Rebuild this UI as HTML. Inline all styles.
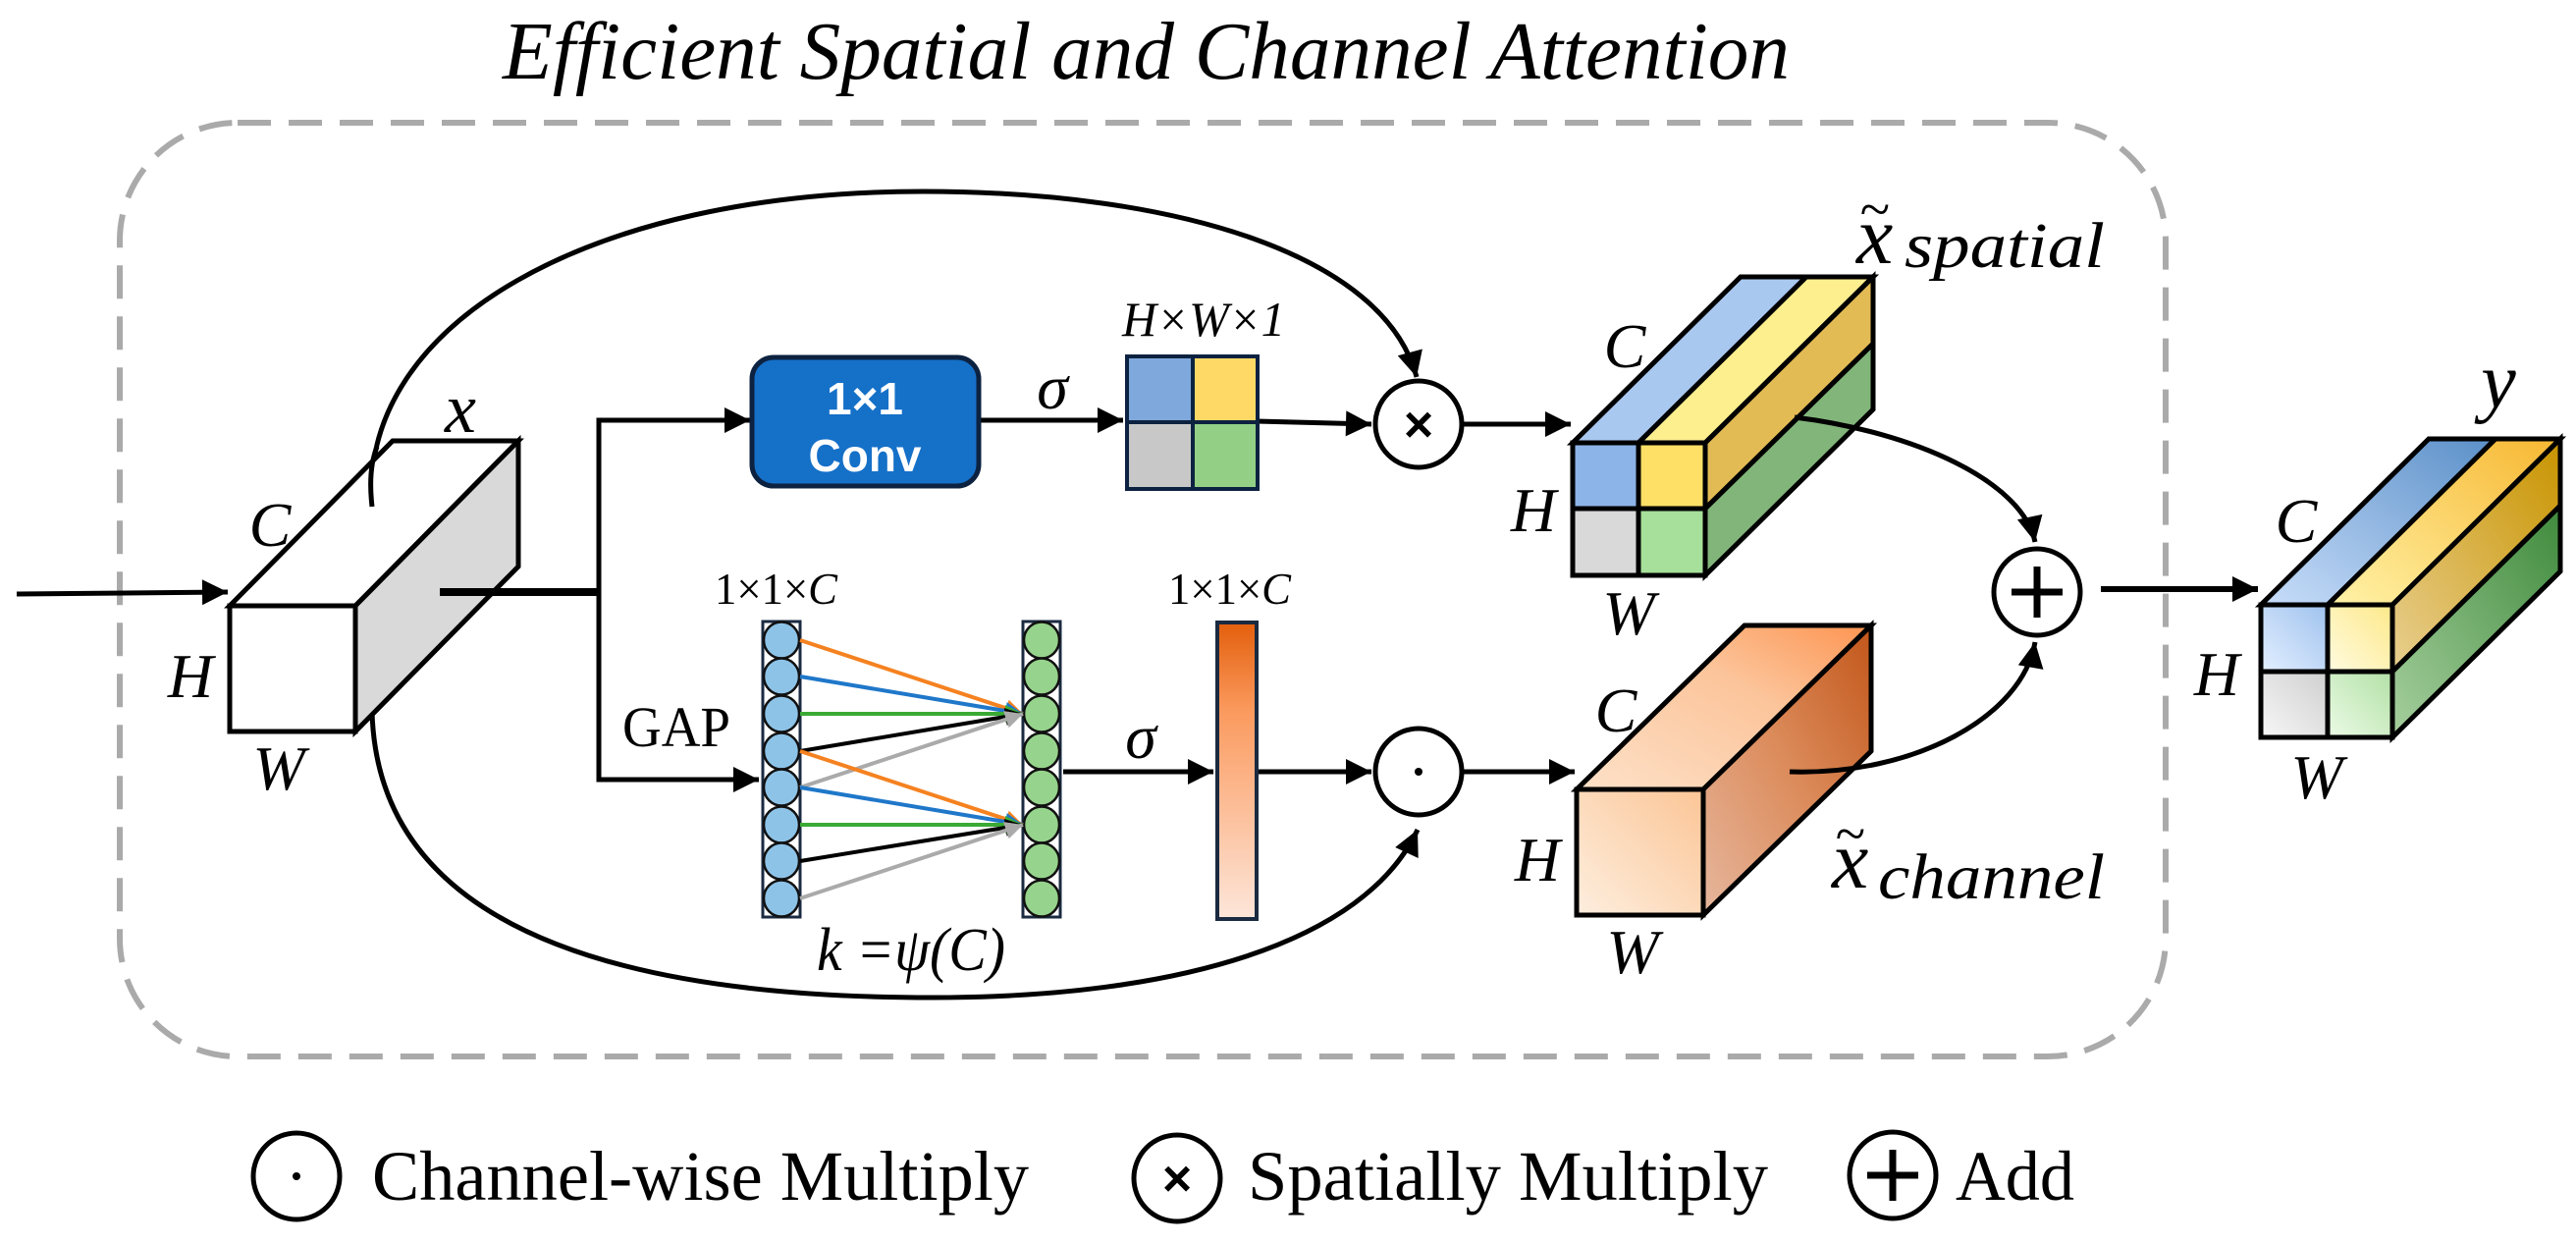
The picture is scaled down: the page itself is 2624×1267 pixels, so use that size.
<!DOCTYPE html>
<html><head><meta charset="utf-8"><style>html,body{margin:0;padding:0;background:#fff}svg{display:block}
svg text{font-family:"Liberation Serif","Times New Roman",serif}
svg text.sans{font-family:"Liberation Sans",Arial,sans-serif}
</style></head>
<body>
<svg width="2624" height="1267" viewBox="0 0 2624 1267" xmlns="http://www.w3.org/2000/svg">
<defs>
<marker id="a" viewBox="0 0 10 10" refX="10" refY="5" markerWidth="30" markerHeight="26" markerUnits="userSpaceOnUse" orient="auto"><path d="M0,0 L10,5 L0,10 z" fill="#000"/></marker>
<marker id="as" viewBox="0 0 10 10" refX="10" refY="5" markerWidth="22" markerHeight="18" markerUnits="userSpaceOnUse" orient="auto"><path d="M0,0 L10,5 L0,10 z" fill="context-stroke"/></marker>
<linearGradient id="bar" x1="0" y1="0" x2="0" y2="1"><stop offset="0" stop-color="#e35f0c"/><stop offset="0.3" stop-color="#fb9a5e"/><stop offset="1" stop-color="#fde6da"/></linearGradient>
<linearGradient id="chF" x1="0" y1="1" x2="1" y2="0"><stop offset="0" stop-color="#fdeede"/><stop offset="1" stop-color="#fcc596"/></linearGradient>
<linearGradient id="chT" x1="0" y1="1" x2="1" y2="0"><stop offset="0" stop-color="#fde1c8"/><stop offset="0.6" stop-color="#fcc49a"/><stop offset="1" stop-color="#fd9451"/></linearGradient>
<linearGradient id="chR" x1="0" y1="1" x2="1" y2="0"><stop offset="0" stop-color="#e6b79e"/><stop offset="0.5" stop-color="#dc8c5c"/><stop offset="1" stop-color="#c2561a"/></linearGradient>
<linearGradient id="yB" x1="0" y1="1" x2="1" y2="0"><stop offset="0" stop-color="#c9defa"/><stop offset="1" stop-color="#5a8fc8"/></linearGradient>
<linearGradient id="yY" x1="0" y1="1" x2="1" y2="0"><stop offset="0" stop-color="#fff3a8"/><stop offset="1" stop-color="#f7b731"/></linearGradient>
<linearGradient id="yO" x1="0" y1="1" x2="1" y2="0"><stop offset="0" stop-color="#e8cf90"/><stop offset="1" stop-color="#c99400"/></linearGradient>
<linearGradient id="yG" x1="0" y1="1" x2="1" y2="0"><stop offset="0" stop-color="#a6cf9e"/><stop offset="1" stop-color="#3f8a3c"/></linearGradient>
<linearGradient id="c1" x1="0" y1="1" x2="1" y2="0"><stop offset="0" stop-color="#e3efff"/><stop offset="1" stop-color="#9fc2ee"/></linearGradient>
<linearGradient id="c2" x1="0" y1="1" x2="1" y2="0"><stop offset="0" stop-color="#fffbe0"/><stop offset="1" stop-color="#fde98a"/></linearGradient>
<linearGradient id="c3" x1="0" y1="1" x2="1" y2="0"><stop offset="0" stop-color="#f7f7f7"/><stop offset="1" stop-color="#cfcfcf"/></linearGradient>
<linearGradient id="c4" x1="0" y1="1" x2="1" y2="0"><stop offset="0" stop-color="#ecfbe6"/><stop offset="1" stop-color="#b2e0a6"/></linearGradient>
</defs>

<!-- title -->
<text x="512" y="80" font-size="84" font-style="italic" textLength="1311" lengthAdjust="spacingAndGlyphs">Efficient Spatial and Channel Attention</text>

<!-- dashed container -->
<rect x="122" y="125" width="2084" height="951" rx="120" fill="none" stroke="#aaa" stroke-width="6" stroke-dasharray="34,18"/>

<g stroke="#000" stroke-width="5" fill="none">
<path d="M379 516 C365 330 600 195 940 195 C1200 195 1410 260 1443 384" marker-end="url(#a)"/>
<path d="M379 725 C385 950 640 1016 950 1016 C1200 1016 1390 960 1444 845" marker-end="url(#a)"/>
<line x1="17" y1="605" x2="232" y2="603" marker-end="url(#a)"/>
</g>

<!-- input cube -->
<g stroke="#000" stroke-width="5" stroke-linejoin="miter">
<polygon points="234,617 362,617 528,449 400,449" fill="#fff"/>
<polygon points="362,617 528,449 528,577 362,745" fill="#d9d9d9"/>
<rect x="234" y="617" width="128" height="128" fill="#fff"/>
</g>
<path d="M379 516 C376 490 378 470 384 455" stroke="#000" stroke-width="5" fill="none"/>

<g stroke="#000" fill="none">
<line x1="448" y1="603" x2="612" y2="603" stroke-width="8"/>
<polyline points="760,428 610,428 610,794 768,794" stroke-width="5"/>
<line x1="700" y1="428" x2="764" y2="428" stroke-width="5" marker-end="url(#a)"/>
<line x1="700" y1="794" x2="773" y2="794" stroke-width="5" marker-end="url(#a)"/>
<line x1="997" y1="428" x2="1144" y2="428" stroke-width="5" marker-end="url(#a)"/>
<line x1="1240" y1="428" x2="1397" y2="432" stroke-width="5" marker-end="url(#a)"/>
<line x1="1490" y1="432" x2="1600" y2="432" stroke-width="5" marker-end="url(#a)"/>
<line x1="1083" y1="786" x2="1236" y2="786" stroke-width="5" marker-end="url(#a)"/>
<line x1="1280" y1="786" x2="1397" y2="786" stroke-width="5" marker-end="url(#a)"/>
<line x1="1490" y1="786" x2="1604" y2="786" stroke-width="5" marker-end="url(#a)"/>
<line x1="2140" y1="600" x2="2300" y2="600" stroke-width="6" marker-end="url(#a)"/>
</g>

<!-- labels input -->
<g font-style="italic" font-size="64" text-anchor="middle">
<text x="469" y="440" font-size="72">x</text>
<text x="275" y="556">C</text>
<text x="194" y="710">H</text>
<text x="284" y="804">W</text>
</g>

<!-- conv -->
<rect x="766" y="364" width="231" height="131" rx="22" fill="#1570c8" stroke="#0d2240" stroke-width="5"/>
<text class="sans" x="881" y="422" fill="#fff" font-weight="bold" font-size="46" text-anchor="middle">1×1</text>
<text class="sans" x="881" y="480" fill="#fff" font-weight="bold" font-size="46" text-anchor="middle">Conv</text>
<text x="1072" y="416" font-size="64" font-style="italic" text-anchor="middle">σ</text>

<!-- HxWx1 grid -->
<g stroke="#0d2240" stroke-width="4">
<rect x="1148" y="363" width="67" height="67" fill="#7fa8dc"/>
<rect x="1215" y="363" width="66" height="67" fill="#ffd966"/>
<rect x="1148" y="430" width="67" height="68" fill="#c8c8c8"/>
<rect x="1215" y="430" width="66" height="68" fill="#93cf85"/>
</g>
<text x="1143" y="342" font-size="50" font-style="italic" textLength="166" lengthAdjust="spacingAndGlyphs">H×W×1</text>

<!-- GAP columns -->
<text x="634" y="760" font-size="58" textLength="110" lengthAdjust="spacingAndGlyphs">GAP</text>
<text x="728" y="615" font-size="46" textLength="125" lengthAdjust="spacingAndGlyphs">1×1×<tspan font-style="italic">C</tspan></text>
<text x="1190" y="615" font-size="46" textLength="125" lengthAdjust="spacingAndGlyphs">1×1×<tspan font-style="italic">C</tspan></text>
<rect x="777" y="633" width="38" height="301" fill="#fff" stroke="#1a2a40" stroke-width="3"/>
<rect x="1042" y="633" width="38" height="301" fill="#fff" stroke="#1a2a40" stroke-width="3"/>
<g stroke="#111" stroke-width="2.5">
<ellipse cx="796" cy="652" rx="18" ry="18.5" fill="#8ec3e8"/>
<ellipse cx="796" cy="689" rx="18" ry="18.5" fill="#8ec3e8"/>
<ellipse cx="796" cy="727" rx="18" ry="18.5" fill="#8ec3e8"/>
<ellipse cx="796" cy="765" rx="18" ry="18.5" fill="#8ec3e8"/>
<ellipse cx="796" cy="802" rx="18" ry="18.5" fill="#8ec3e8"/>
<ellipse cx="796" cy="840" rx="18" ry="18.5" fill="#8ec3e8"/>
<ellipse cx="796" cy="877" rx="18" ry="18.5" fill="#8ec3e8"/>
<ellipse cx="796" cy="915" rx="18" ry="18.5" fill="#8ec3e8"/>
<ellipse cx="1061" cy="652" rx="18" ry="18.5" fill="#96d38c"/>
<ellipse cx="1061" cy="689" rx="18" ry="18.5" fill="#96d38c"/>
<ellipse cx="1061" cy="727" rx="18" ry="18.5" fill="#96d38c"/>
<ellipse cx="1061" cy="765" rx="18" ry="18.5" fill="#96d38c"/>
<ellipse cx="1061" cy="802" rx="18" ry="18.5" fill="#96d38c"/>
<ellipse cx="1061" cy="840" rx="18" ry="18.5" fill="#96d38c"/>
<ellipse cx="1061" cy="877" rx="18" ry="18.5" fill="#96d38c"/>
<ellipse cx="1061" cy="915" rx="18" ry="18.5" fill="#96d38c"/>
</g>
<g stroke-width="4" fill="none">
<line x1="815" y1="652" x2="1042" y2="727" stroke="#f58220" marker-end="url(#as)"/>
<line x1="815" y1="689" x2="1042" y2="727" stroke="#1f77c9" marker-end="url(#as)"/>
<line x1="815" y1="727" x2="1042" y2="727" stroke="#3aaa35" marker-end="url(#as)"/>
<line x1="815" y1="765" x2="1042" y2="727" stroke="#000" marker-end="url(#as)"/>
<line x1="815" y1="802" x2="1042" y2="727" stroke="#aaa" marker-end="url(#as)"/>
<line x1="815" y1="765" x2="1042" y2="840" stroke="#f58220" marker-end="url(#as)"/>
<line x1="815" y1="802" x2="1042" y2="840" stroke="#1f77c9" marker-end="url(#as)"/>
<line x1="815" y1="840" x2="1042" y2="840" stroke="#3aaa35" marker-end="url(#as)"/>
<line x1="815" y1="877" x2="1042" y2="840" stroke="#000" marker-end="url(#as)"/>
<line x1="815" y1="915" x2="1042" y2="840" stroke="#aaa" marker-end="url(#as)"/>
</g>
<text x="832" y="988" font-size="62" font-style="italic" textLength="192" lengthAdjust="spacingAndGlyphs">k =ψ(C)</text>
<text x="1162" y="772" font-size="64" font-style="italic" text-anchor="middle">σ</text>
<rect x="1240" y="634" width="40" height="302" fill="url(#bar)" stroke="#1a2a40" stroke-width="4"/>

<!-- operator circles -->
<g stroke="#000" stroke-width="5" fill="#fff">
<circle cx="1445" cy="432" r="44"/>
<circle cx="1445" cy="786" r="44"/>
<circle cx="2075" cy="603" r="44"/>
</g>
<text class="sans" x="1445" y="450" font-size="52" font-weight="bold" text-anchor="middle">×</text>
<circle cx="1445" cy="786" r="4" fill="#000"/>
<g stroke="#000" stroke-width="7"><line x1="2075" y1="577" x2="2075" y2="629"/><line x1="2049" y1="603" x2="2101" y2="603"/></g>

<!-- spatial cube -->
<g stroke="#000" stroke-width="5">
<polygon points="1602,451 1669,451 1840,282 1773,282" fill="#a9c8f0"/>
<polygon points="1669,451 1737,451 1908,282 1840,282" fill="#fdee8e"/>
<polygon points="1737,451 1908,282 1908,350 1737,518" fill="#e2bb55"/>
<polygon points="1737,518 1908,350 1908,417 1737,586" fill="#82b57a"/>
<rect x="1602" y="451" width="67" height="67" fill="#8db4e8"/>
<rect x="1669" y="451" width="68" height="67" fill="#ffe066"/>
<rect x="1602" y="518" width="67" height="68" fill="#d9d9d9"/>
<rect x="1669" y="518" width="68" height="68" fill="#a6e09a"/>
</g>
<!-- channel cube -->
<g stroke="#000" stroke-width="5">
<polygon points="1606,804 1735,804 1906,637 1777,637" fill="url(#chT)"/>
<polygon points="1735,804 1906,637 1906,765 1735,932" fill="url(#chR)"/>
<rect x="1606" y="804" width="129" height="128" fill="url(#chF)"/>
</g>
<!-- output cube -->
<g stroke="#000" stroke-width="5">
<polygon points="2303,616 2371,616 2542,447 2474,447" fill="url(#yB)"/>
<polygon points="2371,616 2437,616 2608,447 2542,447" fill="url(#yY)"/>
<polygon points="2437,616 2608,447 2608,515 2437,684" fill="url(#yO)"/>
<polygon points="2437,684 2608,515 2608,582 2437,751" fill="url(#yG)"/>
<rect x="2303" y="616" width="68" height="68" fill="url(#c1)"/>
<rect x="2371" y="616" width="66" height="68" fill="url(#c2)"/>
<rect x="2303" y="684" width="68" height="67" fill="url(#c3)"/>
<rect x="2371" y="684" width="66" height="67" fill="url(#c4)"/>
</g>

<g stroke="#000" stroke-width="5" fill="none">
<path d="M1828 425 C1950 440 2060 490 2073 552" marker-end="url(#a)"/>
<path d="M1823 786 C1950 790 2060 730 2073 654" marker-end="url(#a)"/>
</g>

<!-- cube labels -->
<g font-style="italic" font-size="64" text-anchor="middle">
<text x="1655" y="374">C</text>
<text x="1562" y="541">H</text>
<text x="1659" y="646">W</text>
<text x="1646" y="745">C</text>
<text x="1566" y="897">H</text>
<text x="1663" y="991">W</text>
<text x="2339" y="552">C</text>
<text x="2258" y="708">H</text>
<text x="2360" y="813">W</text>
<text x="2545" y="415" font-size="80">y</text>
</g>
<g font-style="italic">
<text x="1891" y="268" font-size="84">x</text>
<text x="1894" y="232" font-size="56">~</text>
<text x="1940" y="272" font-size="66" textLength="204" lengthAdjust="spacingAndGlyphs">spatial</text>
<text x="1866" y="904" font-size="84">x</text>
<text x="1869" y="868" font-size="56">~</text>
<text x="1913" y="915" font-size="66" textLength="231" lengthAdjust="spacingAndGlyphs">channel</text>
</g>

<!-- legend -->
<g stroke="#000" stroke-width="5" fill="#fff">
<circle cx="302" cy="1198" r="44"/>
<circle cx="1199" cy="1200" r="44"/>
<circle cx="1928" cy="1197" r="44"/>
</g>
<circle cx="302" cy="1198" r="4" fill="#000"/>
<text class="sans" x="1199" y="1218" font-size="52" font-weight="bold" text-anchor="middle">×</text>
<g stroke="#000" stroke-width="7"><line x1="1928" y1="1171" x2="1928" y2="1223"/><line x1="1902" y1="1197" x2="1954" y2="1197"/></g>
<g font-size="72">
<text x="379" y="1222" textLength="669" lengthAdjust="spacingAndGlyphs">Channel-wise Multiply</text>
<text x="1271" y="1222" textLength="530" lengthAdjust="spacingAndGlyphs">Spatially Multiply</text>
<text x="1992" y="1222" textLength="121" lengthAdjust="spacingAndGlyphs">Add</text>
</g>
</svg>
</body></html>
